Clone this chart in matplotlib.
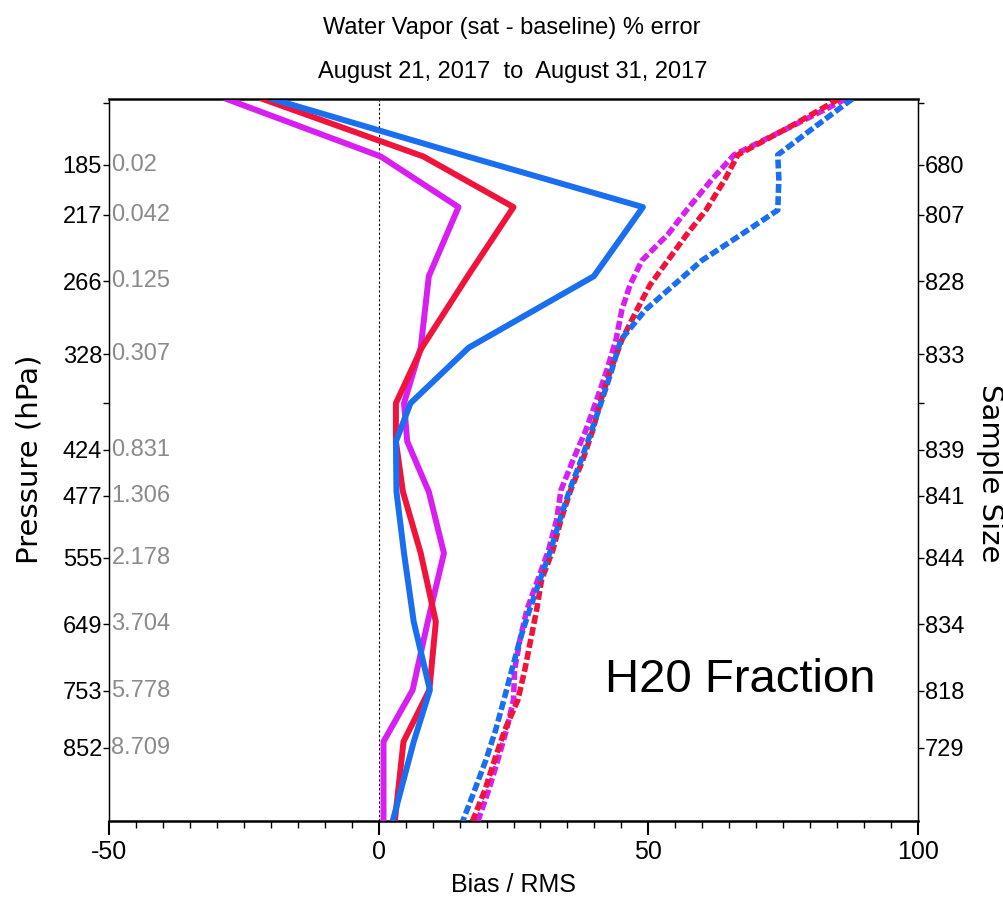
import numpy as np
import matplotlib
matplotlib.use('Agg')
import matplotlib.pyplot as plt
from matplotlib.ticker import MultipleLocator, FixedLocator
from matplotlib.transforms import blended_transform_factory

narrow = ['Liberation Sans Narrow', 'Liberation Sans', 'DejaVu Sans']

# pressure ticks (hPa) and the labels on both sides
p_ticks = [150, 185, 217, 266, 328, 375, 424, 477, 555, 649, 753, 852]
p_labels = ['', '185', '217', '266', '328', '', '424', '477', '555', '649', '753', '852']
mix_labels = ['', '0.02', '0.042', '0.125', '0.307', '', '0.831', '1.306', '2.178', '3.704', '5.778', '8.709']
n_labels = ['', '680', '807', '828', '833', '', '839', '841', '844', '834', '818', '729']
x_ticks = [-50, 0, 50, 100]

# bias (solid) profiles
bias_p = [148, 180, 212, 262, 322, 375, 415, 472, 549, 645, 752, 841, 992]
bias_magenta = [-28.2, 0.4, 14.8, 9.3, 7.8, 4.7, 5.3, 9.3, 12.1, 9.1, 6.3, 0.9, 0.9]
bias_red = [-21.5, 8.3, 25.0, 16.5, 8.0, 3.2, 3.2, 4.5, 7.8, 10.6, 9.4, 4.6, 3.0]
bias_blue = [-19.7, 16.5, 49.0, 39.9, 16.7, 5.9, 3.2, 3.3, 4.7, 6.5, 9.5, 6.5, 2.6]

# rms (dashed) profiles
rms_p = [148, 162, 179, 194, 214, 231, 250, 269, 289, 315, 343, 372, 403,
         436, 470, 506, 545, 585, 627, 672, 719, 769, 820, 874, 931, 992]
rms_magenta = [86.6, 77.0, 65.9, 61.8, 57.1, 53.6, 48.8, 46.6, 45.1, 44.0, 42.3, 40.4, 38.4,
               36.0, 33.8, 33.0, 31.5, 29.5, 27.5, 26.2, 25.2, 25.0, 23.7, 22.1, 20.4, 18.4]
rms_red = [85.3, 76.8, 66.6, 64.2, 60.7, 57.1, 53.6, 50.3, 47.9, 45.1, 43.0, 41.2, 39.7,
           37.8, 35.6, 33.8, 32.3, 30.2, 29.3, 28.2, 27.1, 25.8, 23.4, 21.5, 19.7, 17.4]
rms_blue = [87.8, 81.3, 74.0, 74.2, 74.0, 67.2, 59.9, 54.7, 49.5, 44.9, 43.2, 41.4, 39.5,
            37.5, 35.4, 33.6, 31.9, 29.9, 28.0, 26.2, 24.7, 23.2, 21.7, 19.9, 17.8, 15.6]

c_mag = '#d81ef0'
c_red = '#f0143c'
c_blue = '#1a6ff0'


def fwd(p):
    return np.power(np.clip(p, 1e-6, None), 2.0 / 7.0)


def inv(v):
    return np.power(np.clip(v, 1e-6, None), 3.5)


fig = plt.figure(figsize=(10.04, 9.10), dpi=100)
ax = fig.add_axes([109 / 1004, 1 - 821 / 910, 809 / 1004, 722 / 910])
ax.set_yscale('function', functions=(fwd, inv))

ax.axvline(0, color='k', lw=0.8, ls=(0, (2, 2)), zorder=1)

dash = (0, (1.6, 0.6))
ax.plot(rms_magenta, rms_p, color=c_mag, lw=4, ls=dash, zorder=3)
ax.plot(rms_red, rms_p, color=c_red, lw=4, ls=dash, zorder=3)
ax.plot(rms_blue, rms_p, color=c_blue, lw=4, ls=dash, zorder=3)
ax.plot(bias_magenta, bias_p, color=c_mag, lw=4.3, zorder=4)
ax.plot(bias_red, bias_p, color=c_red, lw=4.3, zorder=4)
ax.plot(bias_blue, bias_p, color=c_blue, lw=4.3, zorder=4)

ax.set_xlim(-50, 100)
ax.set_ylim(992, 148)
ax.set_xticks(x_ticks)
ax.set_xticklabels([str(t) for t in x_ticks], family=narrow, fontsize=18)
ax.xaxis.set_minor_locator(MultipleLocator(5))
ax.set_yticks(p_ticks)
ax.yaxis.set_minor_locator(FixedLocator([]))
ax.set_yticklabels(p_labels, family=narrow, fontsize=17)
ax.tick_params(axis='y', direction='out', length=4, width=1, pad=1)
ax.tick_params(axis='x', which='major', direction='out', length=10, width=1.5, pad=4)
ax.tick_params(axis='x', which='minor', direction='out', length=5, width=1)
for s in ['left', 'right']:
    ax.spines[s].set_linewidth(1)
ax.spines['bottom'].set_linewidth(1.8)
ax.spines['top'].set_linewidth(2)
ax.spines['top'].set_color('#333333')

ax.set_xlabel('Bias / RMS', family=narrow, fontsize=18, labelpad=6)

# mixing ratio labels inside the plot
tr = blended_transform_factory(ax.transAxes, ax.transData)
for p, lab in zip(p_ticks, mix_labels):
    if lab:
        ax.text(0.003, p, lab, transform=tr, ha='left', va='center',
                color='#8a8a8a', family=narrow, fontsize=17)

ax2 = ax.twinx()
ax2.set_yscale('function', functions=(fwd, inv))
ax2.set_ylim(992, 148)
ax2.set_yticks(p_ticks)
ax2.yaxis.set_minor_locator(FixedLocator([]))
ax2.set_yticklabels(n_labels, family=narrow, fontsize=17)
ax2.tick_params(axis='y', direction='out', length=4, width=1, pad=1)

ax.text(0.613, 0.179, 'H20 Fraction', transform=ax.transAxes, ha='left',
        va='baseline', fontsize=34, family=['Liberation Sans', 'DejaVu Sans'])

fig.text(512 / 1004, 1 - 28 / 910, 'Water Vapor (sat - baseline) % error',
         ha='center', va='center', family=narrow, fontsize=17)
fig.text(513 / 1004, 1 - 72 / 910, 'August 21, 2017  to  August 31, 2017',
         ha='center', va='center', family=narrow, fontsize=17)
fig.text(30 / 1004, 1 - 459 / 910, 'Pressure (hPa)', rotation=90,
         ha='center', va='center', fontsize=21)
fig.text(990 / 1004, 1 - 473 / 910, 'Sample Size', rotation=270,
         ha='center', va='center', fontsize=21)

fig.savefig('out.png', dpi=100)
